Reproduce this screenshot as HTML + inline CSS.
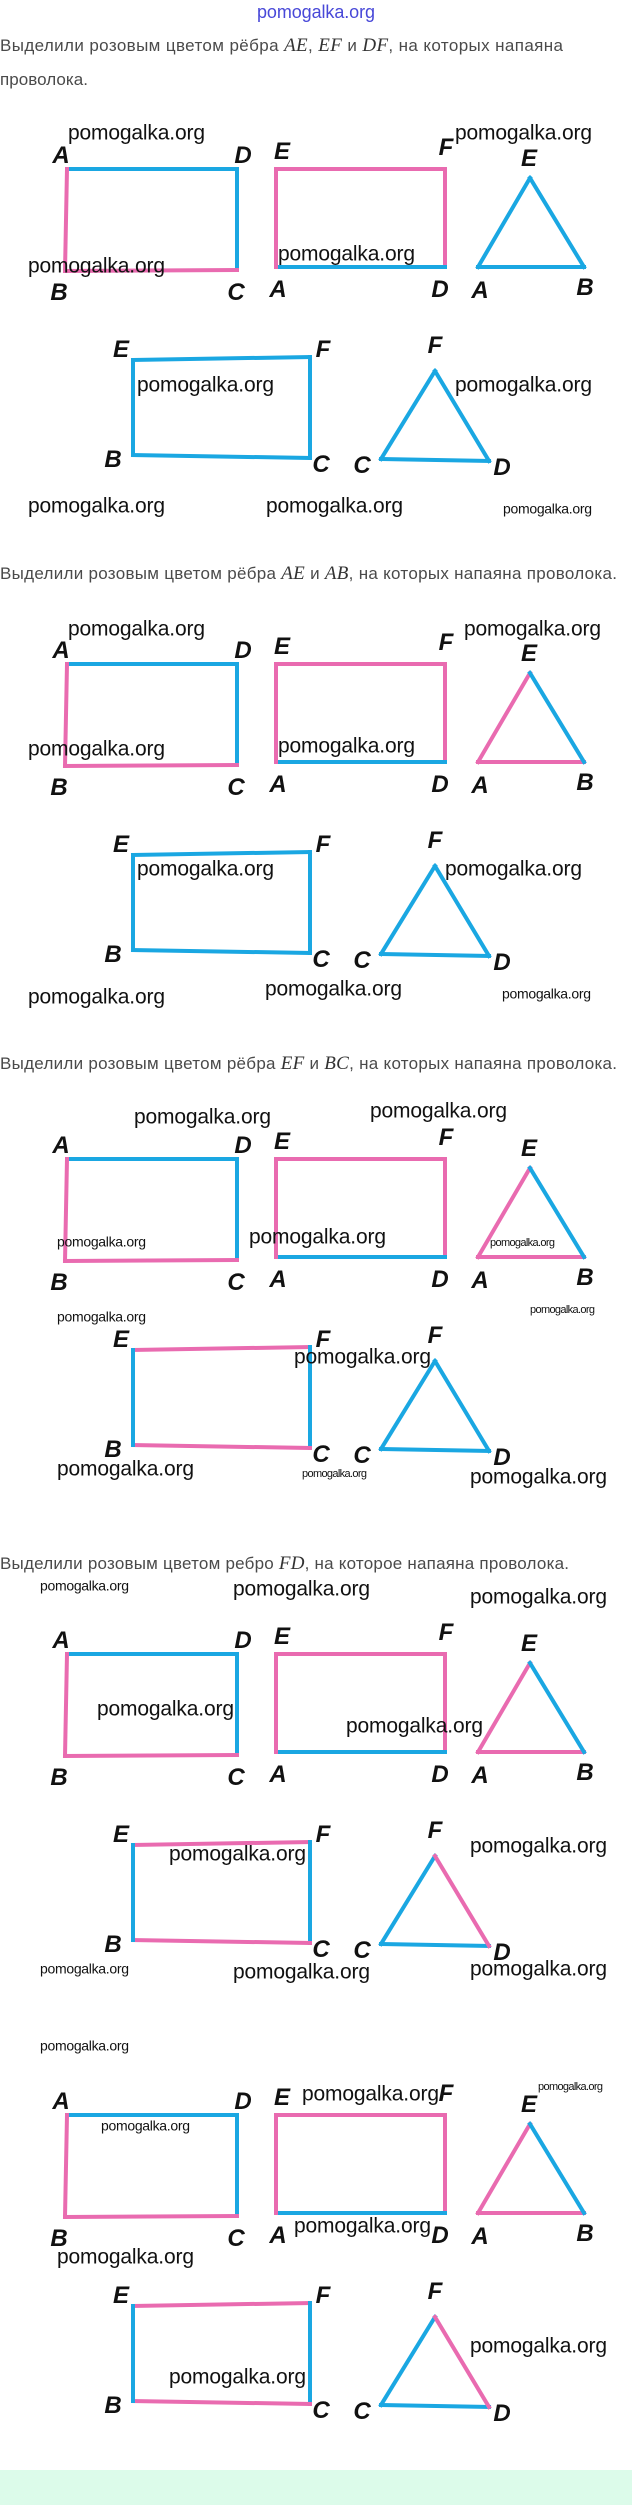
<!DOCTYPE html>
<html><head><meta charset="utf-8"><style>
html,body{margin:0;padding:0;background:#fff;}
svg{display:block;}
.t{font-family:"Liberation Sans",sans-serif;font-size:17px;fill:#4a4a4a;}
.m{font-family:"Liberation Serif",serif;font-style:italic;font-size:19px;fill:#333;}
.w{font-family:"Liberation Sans",sans-serif;font-size:21px;fill:#111;}
.ws{font-family:"Liberation Sans",sans-serif;font-size:14px;fill:#111;}
.wt{font-family:"Liberation Sans",sans-serif;font-size:11px;fill:#111;}
.l{font-family:"Liberation Sans Narrow","Liberation Sans",sans-serif;font-style:italic;font-weight:bold;font-size:24px;fill:#111;text-anchor:middle;}
.p{stroke:#e96bb0;stroke-width:4;stroke-linecap:square;}
.b{stroke:#1aa7e2;stroke-width:4;stroke-linecap:square;}
</style></head><body>
<svg width="632" height="2505" viewBox="0 0 632 2505" xmlns="http://www.w3.org/2000/svg">
<rect x="0" y="2470" width="632" height="35" fill="#dcfbea"/>
<text x="316" y="18" text-anchor="middle" font-family="Liberation Sans, sans-serif" font-size="18" fill="#4848d8" textLength="118">pomogalka.org</text>

<text class="t" x="0" y="51" textLength="563">Выделили розовым цветом рёбра <tspan class="m">AE</tspan>, <tspan class="m">EF</tspan> и <tspan class="m">DF</tspan>, на которых напаяна</text>
<text class="t" x="0" y="85" textLength="88">проволока.</text>
<text class="t" x="0" y="579" textLength="617">Выделили розовым цветом рёбра <tspan class="m">AE</tspan> и <tspan class="m">AB</tspan>, на которых напаяна проволока.</text>
<text class="t" x="0" y="1069" textLength="617">Выделили розовым цветом рёбра <tspan class="m">EF</tspan> и <tspan class="m">BC</tspan>, на которых напаяна проволока.</text>
<text class="t" x="0" y="1569" textLength="569">Выделили розовым цветом ребро <tspan class="m">FD</tspan>, на которое напаяна проволока.</text>

<!-- Section 1 -->
<g transform="translate(0,0)">
<line class="b" x1="67" y1="169" x2="237" y2="169"/><line class="b" x1="237" y1="169" x2="237" y2="270"/><line class="p" x1="237" y1="270" x2="65" y2="271"/><line class="p" x1="65" y1="271" x2="67" y2="169"/>
<line class="p" x1="276" y1="169" x2="445" y2="169"/><line class="p" x1="445" y1="169" x2="445" y2="267"/><line class="b" x1="445" y1="267" x2="276" y2="267"/><line class="p" x1="276" y1="267" x2="276" y2="169"/>
<line class="b" x1="530" y1="178" x2="478" y2="267"/><line class="b" x1="478" y1="267" x2="584" y2="267"/><line class="b" x1="584" y1="267" x2="530" y2="178"/>
<line class="b" x1="133" y1="360" x2="310" y2="357"/><line class="b" x1="310" y1="357" x2="310" y2="458"/><line class="b" x1="310" y1="458" x2="133" y2="455"/><line class="b" x1="133" y1="455" x2="133" y2="360"/>
<line class="b" x1="435" y1="371" x2="381" y2="459"/><line class="b" x1="381" y1="459" x2="489" y2="461"/><line class="b" x1="489" y1="461" x2="435" y2="371"/>
<text class="l" x="61" y="163">A</text><text class="l" x="243" y="163">D</text><text class="l" x="59" y="300">B</text><text class="l" x="236" y="300">C</text>
<text class="l" x="282" y="159">E</text><text class="l" x="446" y="155">F</text><text class="l" x="278" y="297">A</text><text class="l" x="440" y="297">D</text>
<text class="l" x="529" y="166">E</text><text class="l" x="480" y="298">A</text><text class="l" x="585" y="295">B</text>
<text class="l" x="121" y="357">E</text><text class="l" x="323" y="357">F</text><text class="l" x="113" y="467">B</text><text class="l" x="321" y="472">C</text>
<text class="l" x="435" y="353">F</text><text class="l" x="362" y="473">C</text><text class="l" x="502" y="475">D</text>
</g>

<!-- Section 2 -->
<g transform="translate(0,495)">
<line class="b" x1="67" y1="169" x2="237" y2="169"/><line class="b" x1="237" y1="169" x2="237" y2="270"/><line class="p" x1="237" y1="270" x2="65" y2="271"/><line class="p" x1="65" y1="271" x2="67" y2="169"/>
<line class="p" x1="276" y1="169" x2="445" y2="169"/><line class="p" x1="445" y1="169" x2="445" y2="267"/><line class="b" x1="445" y1="267" x2="276" y2="267"/><line class="p" x1="276" y1="267" x2="276" y2="169"/>
<line class="p" x1="530" y1="178" x2="478" y2="267"/><line class="p" x1="478" y1="267" x2="584" y2="267"/><line class="b" x1="584" y1="267" x2="530" y2="178"/>
<line class="b" x1="133" y1="360" x2="310" y2="357"/><line class="b" x1="310" y1="357" x2="310" y2="458"/><line class="b" x1="310" y1="458" x2="133" y2="455"/><line class="b" x1="133" y1="455" x2="133" y2="360"/>
<line class="b" x1="435" y1="371" x2="381" y2="459"/><line class="b" x1="381" y1="459" x2="489" y2="461"/><line class="b" x1="489" y1="461" x2="435" y2="371"/>
<text class="l" x="61" y="163">A</text><text class="l" x="243" y="163">D</text><text class="l" x="59" y="300">B</text><text class="l" x="236" y="300">C</text>
<text class="l" x="282" y="159">E</text><text class="l" x="446" y="155">F</text><text class="l" x="278" y="297">A</text><text class="l" x="440" y="297">D</text>
<text class="l" x="529" y="166">E</text><text class="l" x="480" y="298">A</text><text class="l" x="585" y="295">B</text>
<text class="l" x="121" y="357">E</text><text class="l" x="323" y="357">F</text><text class="l" x="113" y="467">B</text><text class="l" x="321" y="472">C</text>
<text class="l" x="435" y="353">F</text><text class="l" x="362" y="473">C</text><text class="l" x="502" y="475">D</text>
</g>

<!-- Section 3 -->
<g transform="translate(0,990)">
<line class="b" x1="67" y1="169" x2="237" y2="169"/><line class="b" x1="237" y1="169" x2="237" y2="270"/><line class="p" x1="237" y1="270" x2="65" y2="271"/><line class="p" x1="65" y1="271" x2="67" y2="169"/>
<line class="p" x1="276" y1="169" x2="445" y2="169"/><line class="p" x1="445" y1="169" x2="445" y2="267"/><line class="b" x1="445" y1="267" x2="276" y2="267"/><line class="p" x1="276" y1="267" x2="276" y2="169"/>
<line class="p" x1="530" y1="178" x2="478" y2="267"/><line class="p" x1="478" y1="267" x2="584" y2="267"/><line class="b" x1="584" y1="267" x2="530" y2="178"/>
<line class="p" x1="133" y1="360" x2="310" y2="357"/><line class="b" x1="310" y1="357" x2="310" y2="458"/><line class="p" x1="310" y1="458" x2="133" y2="455"/><line class="b" x1="133" y1="455" x2="133" y2="360"/>
<line class="b" x1="435" y1="371" x2="381" y2="459"/><line class="b" x1="381" y1="459" x2="489" y2="461"/><line class="b" x1="489" y1="461" x2="435" y2="371"/>
<text class="l" x="61" y="163">A</text><text class="l" x="243" y="163">D</text><text class="l" x="59" y="300">B</text><text class="l" x="236" y="300">C</text>
<text class="l" x="282" y="159">E</text><text class="l" x="446" y="155">F</text><text class="l" x="278" y="297">A</text><text class="l" x="440" y="297">D</text>
<text class="l" x="529" y="166">E</text><text class="l" x="480" y="298">A</text><text class="l" x="585" y="295">B</text>
<text class="l" x="121" y="357">E</text><text class="l" x="323" y="357">F</text><text class="l" x="113" y="467">B</text><text class="l" x="321" y="472">C</text>
<text class="l" x="435" y="353">F</text><text class="l" x="362" y="473">C</text><text class="l" x="502" y="475">D</text>
</g>

<!-- Section 4 -->
<g transform="translate(0,1485)">
<line class="b" x1="67" y1="169" x2="237" y2="169"/><line class="b" x1="237" y1="169" x2="237" y2="270"/><line class="p" x1="237" y1="270" x2="65" y2="271"/><line class="p" x1="65" y1="271" x2="67" y2="169"/>
<line class="p" x1="276" y1="169" x2="445" y2="169"/><line class="p" x1="445" y1="169" x2="445" y2="267"/><line class="b" x1="445" y1="267" x2="276" y2="267"/><line class="p" x1="276" y1="267" x2="276" y2="169"/>
<line class="p" x1="530" y1="178" x2="478" y2="267"/><line class="p" x1="478" y1="267" x2="584" y2="267"/><line class="b" x1="584" y1="267" x2="530" y2="178"/>
<line class="p" x1="133" y1="360" x2="310" y2="357"/><line class="b" x1="310" y1="357" x2="310" y2="458"/><line class="p" x1="310" y1="458" x2="133" y2="455"/><line class="b" x1="133" y1="455" x2="133" y2="360"/>
<line class="b" x1="435" y1="371" x2="381" y2="459"/><line class="b" x1="381" y1="459" x2="489" y2="461"/><line class="p" x1="489" y1="461" x2="435" y2="371"/>
<text class="l" x="61" y="163">A</text><text class="l" x="243" y="163">D</text><text class="l" x="59" y="300">B</text><text class="l" x="236" y="300">C</text>
<text class="l" x="282" y="159">E</text><text class="l" x="446" y="155">F</text><text class="l" x="278" y="297">A</text><text class="l" x="440" y="297">D</text>
<text class="l" x="529" y="166">E</text><text class="l" x="480" y="298">A</text><text class="l" x="585" y="295">B</text>
<text class="l" x="121" y="357">E</text><text class="l" x="323" y="357">F</text><text class="l" x="113" y="467">B</text><text class="l" x="321" y="472">C</text>
<text class="l" x="435" y="353">F</text><text class="l" x="362" y="473">C</text><text class="l" x="502" y="475">D</text>
</g>

<!-- Section 5 -->
<g transform="translate(0,1946)">
<line class="b" x1="67" y1="169" x2="237" y2="169"/><line class="b" x1="237" y1="169" x2="237" y2="270"/><line class="p" x1="237" y1="270" x2="65" y2="271"/><line class="p" x1="65" y1="271" x2="67" y2="169"/>
<line class="p" x1="276" y1="169" x2="445" y2="169"/><line class="p" x1="445" y1="169" x2="445" y2="267"/><line class="b" x1="445" y1="267" x2="276" y2="267"/><line class="p" x1="276" y1="267" x2="276" y2="169"/>
<line class="p" x1="530" y1="178" x2="478" y2="267"/><line class="p" x1="478" y1="267" x2="584" y2="267"/><line class="b" x1="584" y1="267" x2="530" y2="178"/>
<line class="p" x1="133" y1="360" x2="310" y2="357"/><line class="b" x1="310" y1="357" x2="310" y2="458"/><line class="p" x1="310" y1="458" x2="133" y2="455"/><line class="b" x1="133" y1="455" x2="133" y2="360"/>
<line class="b" x1="435" y1="371" x2="381" y2="459"/><line class="b" x1="381" y1="459" x2="489" y2="461"/><line class="p" x1="489" y1="461" x2="435" y2="371"/>
<text class="l" x="61" y="163">A</text><text class="l" x="243" y="163">D</text><text class="l" x="59" y="300">B</text><text class="l" x="236" y="300">C</text>
<text class="l" x="282" y="159">E</text><text class="l" x="446" y="155">F</text><text class="l" x="278" y="297">A</text><text class="l" x="440" y="297">D</text>
<text class="l" x="529" y="166">E</text><text class="l" x="480" y="298">A</text><text class="l" x="585" y="295">B</text>
<text class="l" x="121" y="357">E</text><text class="l" x="323" y="357">F</text><text class="l" x="113" y="467">B</text><text class="l" x="321" y="472">C</text>
<text class="l" x="435" y="353">F</text><text class="l" x="362" y="473">C</text><text class="l" x="502" y="475">D</text>
</g>

<!-- Watermarks -->
<g dominant-baseline="middle">
<text class="w" x="68" y="134" textLength="137">pomogalka.org</text>
<text class="w" x="455" y="134" textLength="137">pomogalka.org</text>
<text class="w" x="28" y="267" textLength="137">pomogalka.org</text>
<text class="w" x="278" y="255" textLength="137">pomogalka.org</text>
<text class="w" x="137" y="386" textLength="137">pomogalka.org</text>
<text class="w" x="455" y="386" textLength="137">pomogalka.org</text>
<text class="w" x="28" y="507" textLength="137">pomogalka.org</text>
<text class="w" x="266" y="507" textLength="137">pomogalka.org</text>
<text class="ws" x="503" y="510" textLength="89">pomogalka.org</text>

<text class="w" x="68" y="630" textLength="137">pomogalka.org</text>
<text class="w" x="464" y="630" textLength="137">pomogalka.org</text>
<text class="w" x="28" y="750" textLength="137">pomogalka.org</text>
<text class="w" x="278" y="747" textLength="137">pomogalka.org</text>
<text class="w" x="137" y="870" textLength="137">pomogalka.org</text>
<text class="w" x="445" y="870" textLength="137">pomogalka.org</text>
<text class="w" x="28" y="998" textLength="137">pomogalka.org</text>
<text class="w" x="265" y="990" textLength="137">pomogalka.org</text>
<text class="ws" x="502" y="995" textLength="89">pomogalka.org</text>

<text class="w" x="134" y="1118" textLength="137">pomogalka.org</text>
<text class="w" x="370" y="1112" textLength="137">pomogalka.org</text>
<text class="ws" x="57" y="1243" textLength="89">pomogalka.org</text>
<text class="w" x="249" y="1238" textLength="137">pomogalka.org</text>
<text class="wt" x="490" y="1243" textLength="65">pomogalka.org</text>
<text class="ws" x="57" y="1318" textLength="89">pomogalka.org</text>
<text class="wt" x="530" y="1310" textLength="65">pomogalka.org</text>
<text class="w" x="294" y="1358" textLength="137">pomogalka.org</text>
<text class="w" x="57" y="1470" textLength="137">pomogalka.org</text>
<text class="wt" x="302" y="1474" textLength="65">pomogalka.org</text>
<text class="w" x="470" y="1478" textLength="137">pomogalka.org</text>

<text class="ws" x="40" y="1587" textLength="89">pomogalka.org</text>
<text class="w" x="233" y="1590" textLength="137">pomogalka.org</text>
<text class="w" x="470" y="1598" textLength="137">pomogalka.org</text>
<text class="w" x="97" y="1710" textLength="137">pomogalka.org</text>
<text class="w" x="346" y="1727" textLength="137">pomogalka.org</text>
<text class="w" x="169" y="1855" textLength="137">pomogalka.org</text>
<text class="w" x="470" y="1847" textLength="137">pomogalka.org</text>
<text class="ws" x="40" y="1970" textLength="89">pomogalka.org</text>
<text class="w" x="233" y="1973" textLength="137">pomogalka.org</text>
<text class="w" x="470" y="1970" textLength="137">pomogalka.org</text>

<text class="ws" x="40" y="2047" textLength="89">pomogalka.org</text>
<text class="w" x="302" y="2095" textLength="137">pomogalka.org</text>
<text class="wt" x="538" y="2087" textLength="65">pomogalka.org</text>
<text class="ws" x="101" y="2127" textLength="89">pomogalka.org</text>
<text class="w" x="294" y="2227" textLength="137">pomogalka.org</text>
<text class="w" x="57" y="2258" textLength="137">pomogalka.org</text>
<text class="w" x="169" y="2378" textLength="137">pomogalka.org</text>
<text class="w" x="470" y="2347" textLength="137">pomogalka.org</text>
</g>
</svg>
</body></html>
